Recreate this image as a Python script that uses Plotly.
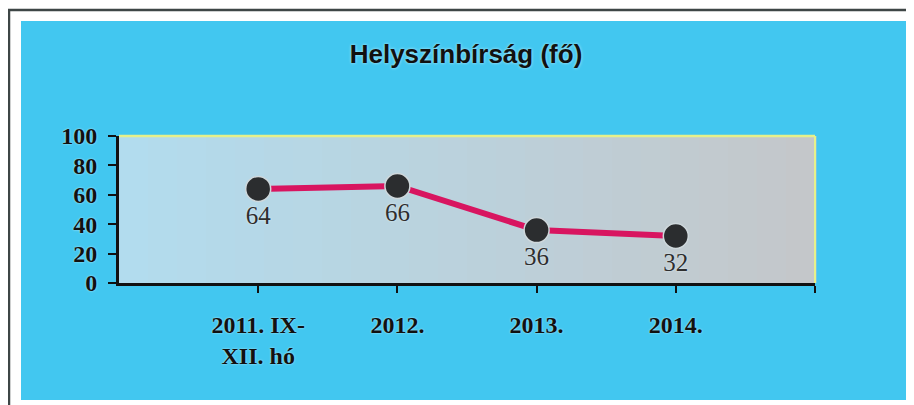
import plotly.graph_objects as go

categories = ["2011. IX-<br>XII. hó", "2012.", "2013.", "2014."]
values = [64, 66, 36, 32]
y_ticks = [0, 20, 40, 60, 80, 100]
title_text = "Helyszínbírság (fő)"

# page body adds an 8px margin; compensate so the chart lands where the reference has it
OFF = 8
W, H = 914 - OFF, 405 - OFF
L, R, T, B = 119 - OFF, 815 - OFF, 136 - OFF, 283 - OFF


def px(x):
    return (x - OFF - L) / (R - L)


def py(y):
    return (B - (y - OFF)) / (B - T)


xpos = list(range(1, len(categories) + 1))

fig = go.Figure()
fig.add_trace(go.Scatter(
    x=xpos, y=values,
    mode="lines+markers+text",
    line=dict(color="#d81560", width=6),
    marker=dict(size=25, color="#2b2d2f", line=dict(color="#cfd8dc", width=1.5)),
    text=[str(v) for v in values],
    textposition="bottom center",
    textfont=dict(family="Liberation Serif, Times New Roman, serif", size=25, color="#2e2e2e",
                  shadow="0px 0px 2px #e8f4f8"),
    hoverinfo="skip",
    showlegend=False,
))

# subtle left-to-right gradient in the plot background (light blue -> grey)
c0 = (178, 220, 238)
c1 = (196, 199, 202)
N = 24
bg_strips = []
for i in range(N):
    t = i / (N - 1)
    col = tuple(round(a + (b - a) * t) for a, b in zip(c0, c1))
    bg_strips.append(dict(
        type="rect", xref="paper", yref="paper", x0=i / N, x1=(i + 1) / N + 0.002, y0=0, y1=1,
        fillcolor="rgb(%d,%d,%d)" % col, line=dict(width=0), layer="below"))

shapes = bg_strips + [
    # white frame strips
    dict(type="rect", xref="paper", yref="paper", x0=px(-20), x1=px(940), y0=py(-20), y1=py(21),
         fillcolor="white", line=dict(width=0), layer="above"),
    dict(type="rect", xref="paper", yref="paper", x0=px(-20), x1=px(21), y0=py(-20), y1=py(430),
         fillcolor="white", line=dict(width=0), layer="above"),
    dict(type="rect", xref="paper", yref="paper", x0=px(-20), x1=px(940), y0=py(400), y1=py(430),
         fillcolor="white", line=dict(width=0), layer="above"),
    # dark outer border
    dict(type="line", xref="paper", yref="paper", x0=px(8), x1=px(940), y0=py(10), y1=py(10),
         line=dict(color="#3e4646", width=2.5), layer="above"),
    dict(type="line", xref="paper", yref="paper", x0=px(9), x1=px(9), y0=py(10), y1=py(430),
         line=dict(color="#3e4646", width=2.5), layer="above"),
    # yellowish plot border top & right
    dict(type="line", xref="paper", yref="paper", x0=0, x1=1, y0=1, y1=1,
         line=dict(color="#e6f08a", width=2.5), layer="above"),
    dict(type="line", xref="paper", yref="paper", x0=1, x1=1, y0=0, y1=1,
         line=dict(color="#e6f08a", width=2), layer="above"),
]

tick_font = dict(family="Liberation Serif, Times New Roman, serif", size=24, color="#111111",
                 weight="bold", shadow="0px 0px 2px #c8eefa")

fig.update_layout(
    width=W, height=H,
    margin=dict(l=L, r=W - R, t=T, b=H - B, pad=0),
    paper_bgcolor="#42c7f0",
    plot_bgcolor="#b6d5e0",
    title=dict(
        text=title_text,
        x=(466 - OFF) / W, xanchor="center",
        y=1 - (54 - OFF) / H, yanchor="middle", yref="container",
        font=dict(family="Liberation Sans, Arial, sans-serif",
                  size=26, color="#111111", weight="bold", shadow="0px 0px 3px #bfeefc"),
    ),
    xaxis=dict(
        range=[0, len(categories) + 1],
        tickvals=xpos + [len(categories) + 1],
        ticktext=categories + [""],
        showgrid=False, zeroline=False,
        showline=True, linecolor="#111111", linewidth=3,
        ticks="outside", ticklen=7, tickwidth=2, tickcolor="#111111",
        tickfont=tick_font,
        ticklabelstandoff=11,
    ),
    yaxis=dict(
        range=[0, 100],
        tickvals=y_ticks,
        showgrid=False, zeroline=False,
        showline=True, linecolor="#111111", linewidth=3,
        ticks="outside", ticklen=8, tickwidth=2, tickcolor="#111111",
        tickfont=tick_font,
        ticklabelstandoff=6,
    ),
    shapes=shapes,
)

fig.write_html("out.html")
